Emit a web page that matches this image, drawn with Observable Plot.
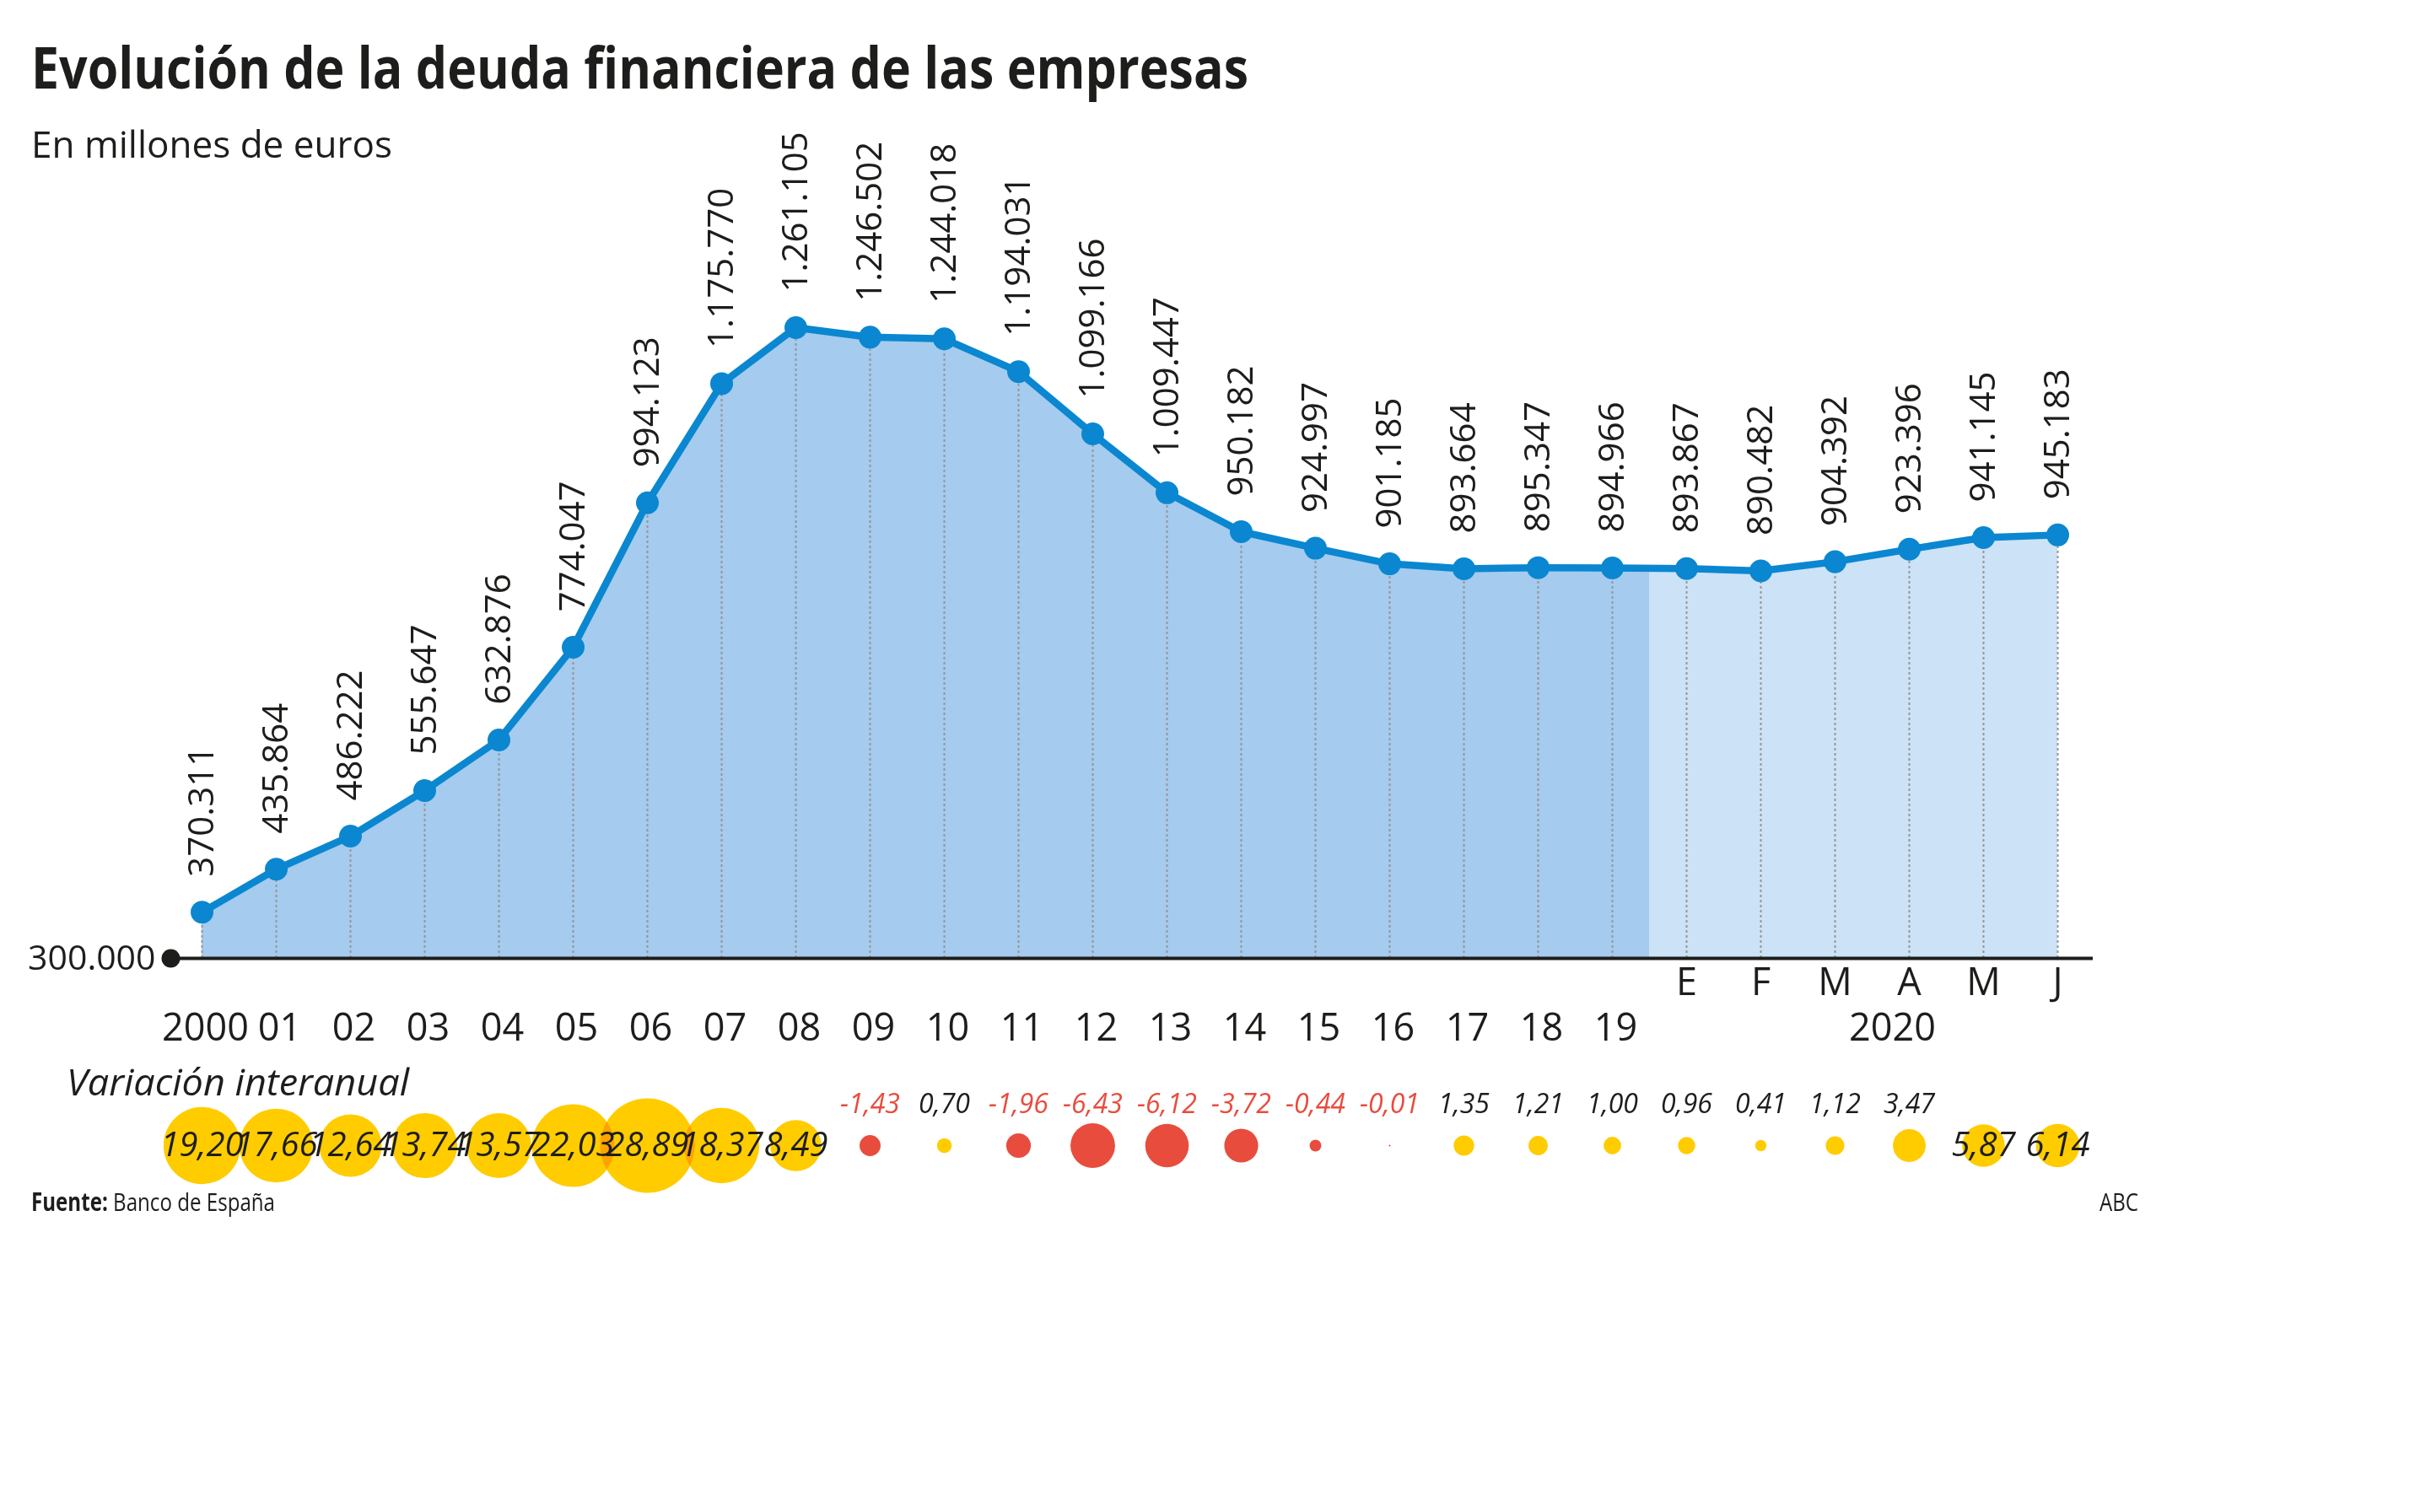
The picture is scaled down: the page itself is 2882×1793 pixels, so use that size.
<!DOCTYPE html>
<html>
<head>
<meta charset="utf-8">
<script src="https://cdn.jsdelivr.net/npm/d3@7"></script>
<script src="https://cdn.jsdelivr.net/npm/@observablehq/plot@0.6"></script>
<style>
  html, body { margin: 0; padding: 0; background: #fff; }
  #wrap { position: relative; width: 2882px; height: 1793px; overflow: hidden; background: #fff;
          font-family: "Open Sans", "Noto Sans", sans-serif; color: #1d1d1b; }
  #wrap svg { position: absolute; left: 0; }
  .t { position: absolute; white-space: nowrap; line-height: 1; transform-origin: left center; z-index: 5; }
  #title { left: 37px; top: 45px; font-size: 68px; font-weight: 700; }
  #subtitle { left: 37px; top: 149px; font-size: 43px; }
  #varia { left: 79px; top: 1261px; font-size: 43px; font-style: italic; }
  #fuente { left: 37px; top: 1410px; font-size: 30px; }
  #abc { left: 2489px; top: 1410px; font-size: 30px; }
</style>
</head>
<body>
<div id="wrap">
  <div class="t" id="title">Evolución de la deuda financiera de las empresas</div>
  <div class="t" id="subtitle">En millones de euros</div>
  <div class="t" id="varia">Variación interanual</div>
  <div class="t" id="fuente"><b>Fuente:</b> Banco de España</div>
  <div class="t" id="abc">ABC</div>
</div>
<script>
// ---- data ----
const periods = ["2000","2001","2002","2003","2004","2005","2006","2007","2008","2009",
                 "2010","2011","2012","2013","2014","2015","2016","2017","2018","2019",
                 "2020-01","2020-02","2020-03","2020-04","2020-05","2020-06"];
const periodLabels = ["2000","01","02","03","04","05","06","07","08","09",
                      "10","11","12","13","14","15","16","17","18","19",
                      "E","F","M","A","M","J"];
const deuda = [370311, 435864, 486222, 555647, 632876, 774047, 994123, 1175770, 1261105, 1246502,
               1244018, 1194031, 1099166, 1009447, 950182, 924997, 901185, 893664, 895347, 894966,
               893867, 890482, 904392, 923396, 941145, 945183];
const variacion = [19.20, 17.66, 12.64, 13.74, 13.57, 22.03, 28.89, 18.37, 8.49, -1.43,
                   0.70, -1.96, -6.43, -6.12, -3.72, -0.44, -0.01, 1.35, 1.21, 1.00,
                   0.96, 0.41, 1.12, 3.47, 5.87, 6.14];
const baseValue = 300000;
const baseLabel = "300.000";
const yearGroupLabel = "2020";

// ---- table ----
const data = periods.map((p, i) => ({
  key: p, label: periodLabels[i], value: deuda[i], change: variacion[i], monthly: p.includes("-")
}));

const es = d3.formatLocale({decimal: ",", thousands: ".", grouping: [3], currency: ["", "€"], minus: "-"});
const fmtInt = es.format(",d");
const fmtPct = es.format(".2f");

const BLUE = "#0a87d0", DARK = "#a5cbee", LIGHT = "#cce2f6", INK = "#1d1d1b";
const YELLOW = "#ffcc00", RED = "#e84c3d";
const W = 2882;
const mL = 239, mR = 443;
const FONT = "'Open Sans', 'Noto Sans', sans-serif";

const lastAnnual = data.filter(d => !d.monthly).length - 1;
const split = (lastAnnual + 0.5) / (data.length - 1);

const main = Plot.plot({
  width: W, height: 1260,
  marginLeft: mL, marginRight: mR, marginTop: 388, marginBottom: 124,
  x: {type: "point", domain: periods, padding: 0, axis: null},
  y: {domain: [baseValue, d3.max(deuda)], axis: null},
  style: {background: "transparent", fontFamily: FONT, color: INK},
  marks: [
    Plot.areaY(data, {x: "key", y1: baseValue, y2: "value", fill: "url(#areaGrad)"}),
    Plot.ruleX(data, {x: "key", y1: baseValue, y2: "value", stroke: "#969696", strokeWidth: 2, strokeDasharray: "3,3"}),
    Plot.ruleY([baseValue], {stroke: INK, strokeWidth: 4, insetLeft: -37, insetRight: -42}),
    Plot.dot([baseValue], {y: d => d, frameAnchor: "left", dx: -37, r: 11, fill: INK}),
    Plot.text([baseLabel], {y: () => baseValue, text: d => d, frameAnchor: "left", dx: -55, textAnchor: "end", fontSize: 41, fill: INK, ariaLabel: "base-label"}),
    Plot.line(data, {x: "key", y: "value", stroke: BLUE, strokeWidth: 8.5}),
    Plot.dot(data, {x: "key", y: "value", r: 13.5, fill: BLUE}),
    Plot.text(data, {x: "key", y: "value", text: d => fmtInt(d.value), rotate: -90, textAnchor: "start", dy: -42, fontSize: 42, fill: INK, ariaLabel: "value-labels"}),
    Plot.text(data.filter(d => !d.monthly), {x: "key", text: "label", frameAnchor: "bottom", dy: 97, dx: 4, fontSize: 45, fill: INK, ariaLabel: "year-labels"}),
    Plot.text(data.filter(d => d.monthly), {x: "key", text: "label", frameAnchor: "bottom", dy: 43, fontSize: 45, fill: INK, ariaLabel: "month-labels"}),
    Plot.text([yearGroupLabel], {x: () => periods[periods.length - 3], text: d => d, frameAnchor: "bottom", dy: 97, dx: -20, fontSize: 45, fill: INK, ariaLabel: "group-label"})
  ]
});
main.style.top = "0px";

// gradient for the two-tone area
const defs = d3.select(main).insert("defs", ":first-child");
const g = defs.append("linearGradient").attr("id", "areaGrad").attr("x1", 0).attr("x2", 1).attr("y1", 0).attr("y2", 0);
g.append("stop").attr("offset", split).attr("stop-color", DARK);
g.append("stop").attr("offset", split).attr("stop-color", LIGHT);

const inside = d => d.change >= 5;
const bubbles = Plot.plot({
  width: W, height: 230,
  marginLeft: mL, marginRight: mR, marginTop: 0, marginBottom: 0,
  x: {type: "point", domain: periods, padding: 0, axis: null},
  r: {type: "sqrt", domain: [0, d3.max(variacion, v => Math.abs(v))], range: [0, 56]},
  style: {background: "transparent", fontFamily: FONT, color: INK},
  marks: [
    Plot.dot(data, {x: "key", r: d => Math.abs(d.change), fill: d => d.change < 0 ? RED : YELLOW, mixBlendMode: "multiply"}),
    Plot.text(data.filter(inside), {x: "key", text: d => fmtPct(d.change), fontSize: 40, fontStyle: "italic", fill: INK, ariaLabel: "inside-labels"}),
    Plot.text(data.filter(d => !inside(d)), {x: "key", text: d => fmtPct(d.change), dy: -49, fontSize: 32, fontStyle: "italic", fill: d => d.change < 0 ? RED : INK, ariaLabel: "above-labels"})
  ]
});
bubbles.style.top = "1243px";

const wrap = document.getElementById("wrap");
wrap.insertBefore(bubbles, wrap.firstChild);
wrap.insertBefore(main, wrap.firstChild);

// condensed lettering, as in the reference
function condense(svg, label, f) {
  d3.select(svg).selectAll(`g[aria-label="${label}"] text`).each(function() {
    const L = this.getComputedTextLength();
    this.setAttribute("textLength", L * f);
    this.setAttribute("lengthAdjust", "spacingAndGlyphs");
  });
}
condense(main, "year-labels", 0.85);
condense(main, "month-labels", 0.9);
condense(main, "group-label", 0.88);
condense(bubbles, "inside-labels", 0.8);
condense(bubbles, "above-labels", 0.9);

// fit HTML texts to the reference widths
function fit(id, target) {
  const el = document.getElementById(id);
  const w = el.getBoundingClientRect().width;
  el.style.transform = `scaleX(${target / w})`;
}
fit("title", 1443);
fit("subtitle", 428);
fit("varia", 406);
fit("fuente", 289);
fit("abc", 46);
</script>
</body>
</html>
